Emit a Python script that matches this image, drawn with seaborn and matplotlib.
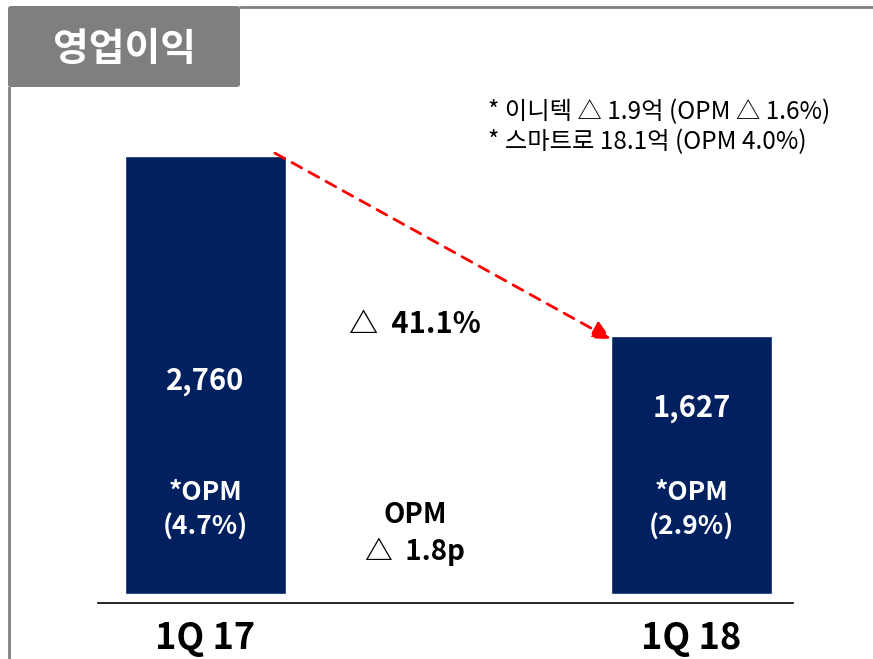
import matplotlib
matplotlib.use("Agg")
import matplotlib.pyplot as plt
import seaborn as sns
from matplotlib.patches import FancyBboxPatch
from matplotlib.lines import Line2D

# data
quarters = ["1Q 17", "1Q 18"]
profit = [2760, 1627]
opm = ["(4.7%)", "(2.9%)"]
change_pct = "△  41.1%"
change_opm = "△  1.8p"
notes = ["* 이니텍 △ 1.9억 (OPM △ 1.6%)", "* 스마트로 18.1억 (OPM 4.0%)"]
title = "영업이익"

navy = "#002060"
grey = "#7f7f7f"

sns.set_theme(style="white")
plt.rcParams["font.family"] = ["Noto Sans CJK KR", "DejaVu Sans"]

fig = plt.figure(figsize=(8.73, 6.59), dpi=100)
ax = fig.add_axes([98 / 873, 56 / 659, 695 / 873, 503 / 659])

sns.barplot(x=quarters, y=profit, color=navy, width=0.331, saturation=1, ax=ax)

ax.set_xlim(-0.221, 1.209)
ax.set_ylim(-57, 3115)
for s in ["top", "right", "left"]:
    ax.spines[s].set_visible(False)
ax.spines["bottom"].set_color("black")
ax.spines["bottom"].set_linewidth(1.2)
ax.set_yticks([])
ax.tick_params(axis="x", length=0, pad=12)
for lab in ax.get_xticklabels():
    lab.set_fontsize(26)
    lab.set_fontweight("bold")
    lab.set_color("black")

# labels inside bars
val_y = [1346, 1170]
for i, v in enumerate(profit):
    ax.text(i, val_y[i], f"{v:,}", color="white", fontsize=21, fontweight="bold",
            ha="center", va="center")
    ax.text(i, 641, "*OPM", color="white", fontsize=19, fontweight="bold",
            ha="center", va="center")
    ax.text(i, 421, opm[i], color="white", fontsize=19, fontweight="bold",
            ha="center", va="center")

# middle annotations
ax.text(0.431, 1704, change_pct, fontsize=21, fontweight="bold", ha="center", va="center", color="black")
ax.text(0.431, 497, "OPM", fontsize=20, fontweight="bold", ha="center", va="center", color="black")
ax.text(0.431, 264, change_opm, fontsize=20, fontweight="bold", ha="center", va="center", color="black")

# red dashed arrow from bar1 top to bar2 top
ax.annotate("", xy=(1 - 0.331 / 2, profit[1] - 20), xytext=(0.143, profit[0] + 20),
            arrowprops=dict(arrowstyle="-|>", color="red", lw=2, linestyle=(0, (4, 3)),
                            mutation_scale=28, shrinkA=0, shrinkB=0))

# notes
fig.text(488 / 873, 1 - 112 / 659, notes[0], fontsize=17.5, va="center", ha="left", color="black")
fig.text(488 / 873, 1 - 142 / 659, notes[1], fontsize=17.5, va="center", ha="left", color="black")

# title box and frame
box = FancyBboxPatch((8 / 873, 1 - 87 / 659), 232 / 873, 81 / 659,
                     boxstyle="round,pad=0,rounding_size=0.004", transform=fig.transFigure,
                     facecolor=grey, edgecolor="none")
fig.patches.append(box)
fig.text(125 / 873, 1 - 49 / 659, title, fontsize=28, fontweight="bold", color="white",
         ha="center", va="center")
fig.lines.append(Line2D([240 / 873, 1], [1 - 7 / 659, 1 - 7 / 659], transform=fig.transFigure,
                        color=grey, lw=2))
fig.lines.append(Line2D([9 / 873, 9 / 873], [1 - 87 / 659, 0], transform=fig.transFigure,
                        color=grey, lw=2))

fig.savefig("out.png", dpi=100, facecolor="white")
